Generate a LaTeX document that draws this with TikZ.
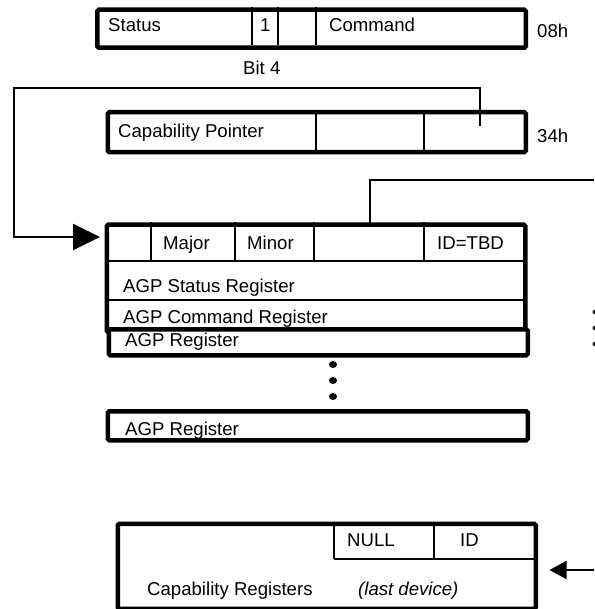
\documentclass[tikz,border=0pt]{standalone}
\usepackage{fontspec}
\setmainfont{Liberation Sans}
\usepackage{tikz}
\usetikzlibrary{arrows.meta,positioning,calc}
\definecolor{ink}{HTML}{000000}
\tikzset{
  reg/.style={draw=ink, line width=4.5pt, rounded corners=1.5pt, fill=white,
              anchor=north west, inner sep=0pt},
  divider/.style={draw=ink, line width=2pt},
  field/.style={anchor=base west, inner sep=0pt, text=ink,
                font=\fontsize{18.6}{20}\selectfont},
  link/.style={draw=ink, line width=2pt},
  bigarr/.style={link, -{Triangle[length=27pt,width=26pt]}},
  smallarr/.style={link, -{Triangle[length=17pt,width=18pt]}}
}

\begin{document}
\begin{tikzpicture}[x=1pt, y=-1pt]
  \useasboundingbox (0,0) rectangle (594,609);

  % status / command register at 08h
  \node[reg, minimum width=428.5, minimum height=38] (cmdreg) at (95,7.5) {};
  \draw[divider] (252,7.5) -- (252,45.5);
  \draw[divider] (277.5,7.5) -- (277.5,45.5);
  \draw[divider] (316,7.5) -- (316,45.5);
  \node[field] (status) at (108,31.5) {Status};
  \node[field] (bitone) at (260,31.5) {1};
  \node[field] (command) at (329,31.5) {Command};
  \node[field] (offcmd) at (537,38) {08h};
  \node[field] (bitfour) at (243,75) {Bit 4};

  % capability pointer at 34h
  \node[reg, minimum width=418, minimum height=40] (capptr) at (105.5,110) {};
  \draw[divider] (316,110) -- (316,150);
  \draw[divider] (424,110) -- (424,150);
  \node[field] (ptrname) at (118,137.5) {Capability Pointer};
  \node[field] (offptr) at (537,143) {34h};

  % AGP capability block
  \node[reg, minimum width=418.5, minimum height=107.5] (agpcap) at (104.5,222.5) {};
  \draw[divider] (104.5,260.5) -- (523,260.5);
  \draw[divider] (150.5,222.5) -- (150.5,260.5);
  \draw[divider] (235,222.5) -- (235,260.5);
  \draw[divider] (314,222.5) -- (314,260.5);
  \draw[divider] (424,222.5) -- (424,260.5);
  \draw[divider] (104.5,299.5) -- (523,299.5);
  \node[field] (major) at (163,250) {Major};
  \node[field] (minor) at (247,250) {Minor};
  \node[field] (capid) at (437,250) {ID=TBD};
  \node[field] (agpstat) at (123,292.5) {AGP Status Register};
  \node[field] (agpcmd) at (123,323) {AGP Command Register};

  \node[reg, minimum width=419, minimum height=26] (agpreg) at (106.5,327) {};
  \node[field] (agpregtxt) at (125,346) {AGP Register};

  \fill[ink] (333,364.5) ellipse (4 and 3.5);
  \fill[ink] (333,380.5) ellipse (4 and 3.5);
  \fill[ink] (333,396.5) ellipse (4 and 3.5);

  \node[reg, minimum width=420, minimum height=29] (agplast) at (105.5,409) {};
  \node[field] (agplasttxt) at (125,435) {AGP Register};

  % last device
  \node[reg, minimum width=418, minimum height=85] (lastcap) at (115.5,521.5) {};
  \draw[divider] (334,521.5) -- (334,558.5);
  \draw[divider] (434,521.5) -- (434,558.5);
  \draw[divider] (334,558.5) -- (533.5,558.5);
  \node[field] (nullptr) at (347,546.5) {NULL};
  \node[field] (lastid) at (460,546.5) {ID};
  \node[field] (lastname) at (147,595) {Capability Registers};
  \node[field, font=\fontsize{18.6}{20}\selectfont\itshape] (lastnote) at (358,595) {(last device)};

  \fill[ink] (594.5,312) circle (2);
  \fill[ink] (594.5,328) circle (2);
  \fill[ink] (594.5,344) circle (2);

  % pointers
  \coordinate (ptrsrc) at (480,126);
  \coordinate (loopcorner) at (14,88);
  \draw[bigarr, shorten >=4.5pt] (ptrsrc) |- (loopcorner) |- (agpcap.west |- 0,237);

  \coordinate (nextsrc) at (370,227);
  \coordinate (nextout) at (594,180);
  \draw[link] (nextsrc) |- (nextout);

  \coordinate (previn) at (594,570);
  \draw[smallarr, shorten >=11.5pt] (previn) -- (lastcap.east |- previn);
\end{tikzpicture}
\end{document}
